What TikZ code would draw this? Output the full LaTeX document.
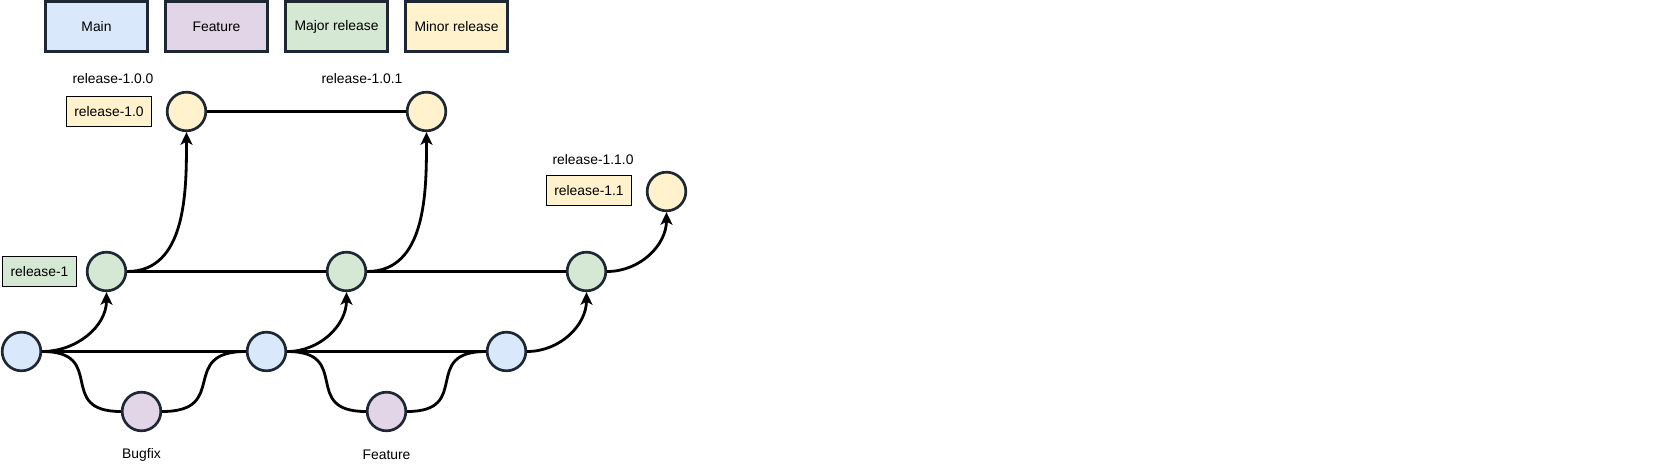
\documentclass[tikz,border=0pt]{standalone}
\usepackage{fontspec}
\setmainfont{Liberation Sans}
\usetikzlibrary{arrows.meta}
\definecolor{mainfill}{HTML}{DAE8FC}
\definecolor{featfill}{HTML}{E1D5E7}
\definecolor{majorfill}{HTML}{D5E8D4}
\definecolor{minorfill}{HTML}{FFF2CC}
\definecolor{rim}{HTML}{1E2733}
\begin{document}
\begin{tikzpicture}[x=0.75pt,y=-0.75pt,font=\fontsize{10.4}{12}\selectfont,
  commit/.style={draw=rim,line width=2pt,circle,minimum size=29pt,inner sep=0pt},
  legend/.style={draw=rim,line width=2.25pt,minimum width=76.5pt,minimum height=37.5pt,inner sep=0pt},
  tag/.style={draw=black,line width=0.75pt,minimum width=63.75pt,minimum height=22.5pt,inner sep=0pt},
  branch/.style={line width=2.1pt},
  merge/.style={branch,looseness=1.7},
  >={Stealth[length=9.5pt,width=9pt,inset=2.5pt]}]
\useasboundingbox (0,0) rectangle (1657,466);
\node[legend,fill=mainfill] (lmain)at(96.5,26.5){Main};
\node[legend,fill=featfill] (lfeat)at(216.5,26.5){Feature};
\node[legend,fill=majorfill] (lmajor)at(336.5,26.5){Major release};
\node[legend,fill=minorfill] (lminor)at(456.5,26.5){Minor release};
\node[commit,fill=mainfill] (m1)at(21.5,351.5){};
\node[commit,fill=mainfill] (m2)at(266.5,351.5){};
\node[commit,fill=mainfill] (m3)at(506.5,351.5){};
\node[commit,fill=featfill] (f1)at(141.5,411.5){};
\node[commit,fill=featfill] (f2)at(386.5,411.5){};
\node[commit,fill=majorfill] (r1)at(106.5,271.5){};
\node[commit,fill=majorfill] (r2)at(346.5,271.5){};
\node[commit,fill=majorfill] (r3)at(586.5,271.5){};
\node[commit,fill=minorfill] (n1)at(186.5,111.5){};
\node[commit,fill=minorfill] (n2)at(426.5,111.5){};
\node[commit,fill=minorfill] (n3)at(666.5,191.5){};
\node[tag,fill=majorfill,minimum width=55.5pt] (t1)at(39.5,271.5){release-1};
\node[tag,fill=minorfill] (t10)at(109,111.5){release-1.0};
\node[tag,fill=minorfill] (t11)at(589,191){release-1.1};
\node (v100)at(113,79){release-1.0.0};
\node (v101)at(362,79){release-1.0.1};
\node (v110)at(593,159.5){release-1.1.0};
\node (bugfix)at(141.5,455){Bugfix};
\node (feature)at(386.5,455){Feature};
\draw[branch] (m1) -- (m2);
\draw[branch] (m2) -- (m3);
\draw[branch] (r1) -- (r2);
\draw[branch] (r2) -- (r3);
\draw[branch] (n1) -- (n2);
\draw[merge] (m1.east) to[out=0,in=180] (f1.west);
\draw[merge] (f1.east) to[out=0,in=180] (m2.west);
\draw[merge] (m2.east) to[out=0,in=180] (f2.west);
\draw[merge] (f2.east) to[out=0,in=180] (m3.west);
\draw[branch,->] (m1.east) to[out=0,in=-90] (r1.south);
\draw[branch,->] (m2.east) to[out=0,in=-90] (r2.south);
\draw[branch,->] (m3.east) to[out=0,in=-90] (r3.south);
\draw[branch,->] (r1.east) to[out=0,in=-90] (n1.south);
\draw[branch,->] (r2.east) to[out=0,in=-90] (n2.south);
\draw[branch,->] (r3.east) to[out=0,in=-90] (n3.south);
\end{tikzpicture}
\end{document}
